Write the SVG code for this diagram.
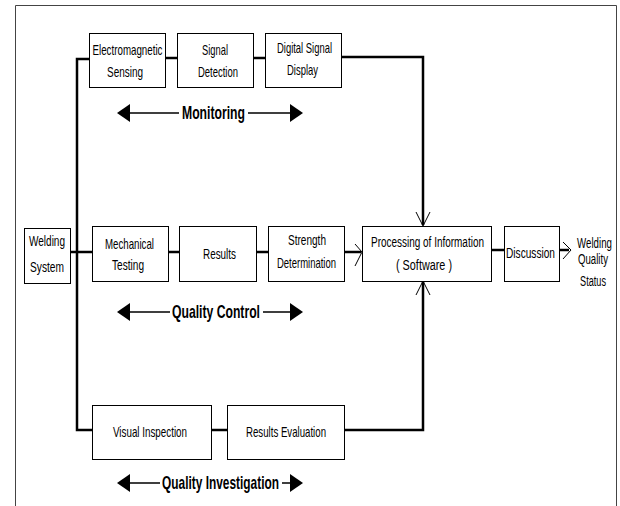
<svg xmlns="http://www.w3.org/2000/svg" width="620" height="506" viewBox="0 0 620 506">
<style>
.box{fill:#fff;stroke:#000;stroke-width:1}
.t{font-family:"Liberation Sans",Arial,sans-serif;font-size:15px;fill:#000;text-anchor:middle}
.b{font-family:"Liberation Sans",Arial,sans-serif;font-size:19px;font-weight:bold;fill:#000;text-anchor:middle}
.c{fill:none;stroke:#000;stroke-width:2.5}
.thin{fill:none;stroke:#000;stroke-width:1.3}
.open{fill:none;stroke:#000;stroke-width:1}
</style>
<rect x="0" y="0" width="620" height="506" fill="#fff"/>
<path d="M15.5,506 V5.5 H616.5 V506" fill="none" stroke="#444" stroke-width="1"/>
<g id="connectors">
<path class="c" d="M89,59 H77 V430 H92"/>
<path class="c" d="M70,252 H92"/>
<path class="c" d="M165,58 H177"/>
<path class="c" d="M253,58 H265"/>
<path class="c" d="M342,57 H423 V225"/>
<path class="c" d="M168,252 H179"/>
<path class="c" d="M256,252 H268"/>
<path class="c" d="M344,252 H361"/>
<path class="c" d="M491,250 H504"/>
<path class="c" d="M559,250 H569"/>
<path class="c" d="M211,430 H227"/>
<path class="c" d="M344,430 H423 V282"/>
<path class="open" d="M416,212 L423,226 L430,212"/>
<path class="open" d="M416,295 L423,281 L430,295"/>
<path class="open" d="M355,244 L362,252 L355,266"/>
<path class="open" d="M563,242 L571,250 L563,259"/>
<path class="thin" d="M128,113 H179 M248,113 H292"/>
<polygon points="117,113 130,104 130,122"/>
<polygon points="303,113 290,104 290,122"/>
<path class="thin" d="M128,312 H170 M263,312 H292"/>
<polygon points="117,312 130,303 130,321"/>
<polygon points="303,312 290,303 290,321"/>
<path class="thin" d="M128,483 H160 M282,483 H292"/>
<polygon points="117,483 130,474 130,492"/>
<polygon points="303,483 290,474 290,492"/>
</g>
<g id="n-em"><rect class="box" x="89.5" y="33.5" width="76" height="54"/><text class="t" x="127.5" y="55" textLength="70" lengthAdjust="spacingAndGlyphs">Electromagnetic</text><text class="t" x="125" y="77" textLength="36" lengthAdjust="spacingAndGlyphs">Sensing</text></g>
<g id="n-sd"><rect class="box" x="177.5" y="33.5" width="76" height="54"/><text class="t" x="215" y="55" textLength="26" lengthAdjust="spacingAndGlyphs">Signal</text><text class="t" x="218" y="77" textLength="40" lengthAdjust="spacingAndGlyphs">Detection</text></g>
<g id="n-dsd"><rect class="box" x="265.5" y="33.5" width="76" height="54"/><text class="t" x="304.5" y="53" textLength="55" lengthAdjust="spacingAndGlyphs">Digital Signal</text><text class="t" x="302.5" y="75" textLength="31" lengthAdjust="spacingAndGlyphs">Display</text></g>
<g id="n-ws"><rect class="box" x="24.5" y="228.5" width="46" height="55"/><text class="t" x="47" y="246" textLength="36" lengthAdjust="spacingAndGlyphs">Welding</text><text class="t" x="47" y="272" textLength="34" lengthAdjust="spacingAndGlyphs">System</text></g>
<g id="n-mt"><rect class="box" x="92.5" y="226.5" width="76" height="55"/><text class="t" x="129.5" y="249" textLength="49" lengthAdjust="spacingAndGlyphs">Mechanical</text><text class="t" x="128" y="270" textLength="32" lengthAdjust="spacingAndGlyphs">Testing</text></g>
<g id="n-r"><rect class="box" x="179.5" y="226.5" width="77" height="55"/><text class="t" x="219.5" y="259" textLength="33" lengthAdjust="spacingAndGlyphs">Results</text></g>
<g id="n-strength"><rect class="box" x="268.5" y="226.5" width="76" height="55"/><text class="t" x="307" y="245" textLength="38" lengthAdjust="spacingAndGlyphs">Strength</text><text class="t" x="306.5" y="268" textLength="59" lengthAdjust="spacingAndGlyphs">Determination</text></g>
<g id="n-proc"><rect class="box" x="362.5" y="226.5" width="129" height="55"/><text class="t" transform="translate(427.5,247) scale(0.665,1)">Processing of Information</text><text class="t" transform="translate(424,270) scale(0.723,1)">( Software )</text></g>
<g id="n-disc"><rect class="box" x="504.5" y="226.5" width="55" height="55"/><text class="t" transform="translate(530.5,258) scale(0.676,1)">Discussion</text></g>
<g id="n-status"><text class="t" transform="translate(594.5,248) scale(0.646,1)">Welding</text><text class="t" transform="translate(593,264) scale(0.642,1)">Quality</text><text class="t" transform="translate(593,286) scale(0.61,1)">Status</text></g>
<g id="n-vi"><rect class="box" x="92.5" y="405.5" width="119" height="54"/><text class="t" x="150" y="437" textLength="74" lengthAdjust="spacingAndGlyphs">Visual Inspection</text></g>
<g id="n-re"><rect class="box" x="227.5" y="405.5" width="117" height="54"/><text class="t" x="286" y="437" textLength="80" lengthAdjust="spacingAndGlyphs">Results Evaluation</text></g>
<g id="l-mon"><text class="b" x="213.5" y="119" textLength="63" lengthAdjust="spacingAndGlyphs">Monitoring</text></g>
<g id="l-qc"><text class="b" x="216" y="318" textLength="88" lengthAdjust="spacingAndGlyphs">Quality Control</text></g>
<g id="l-qi"><text class="b" x="220.5" y="489" textLength="117" lengthAdjust="spacingAndGlyphs">Quality Investigation</text></g>
</svg>
